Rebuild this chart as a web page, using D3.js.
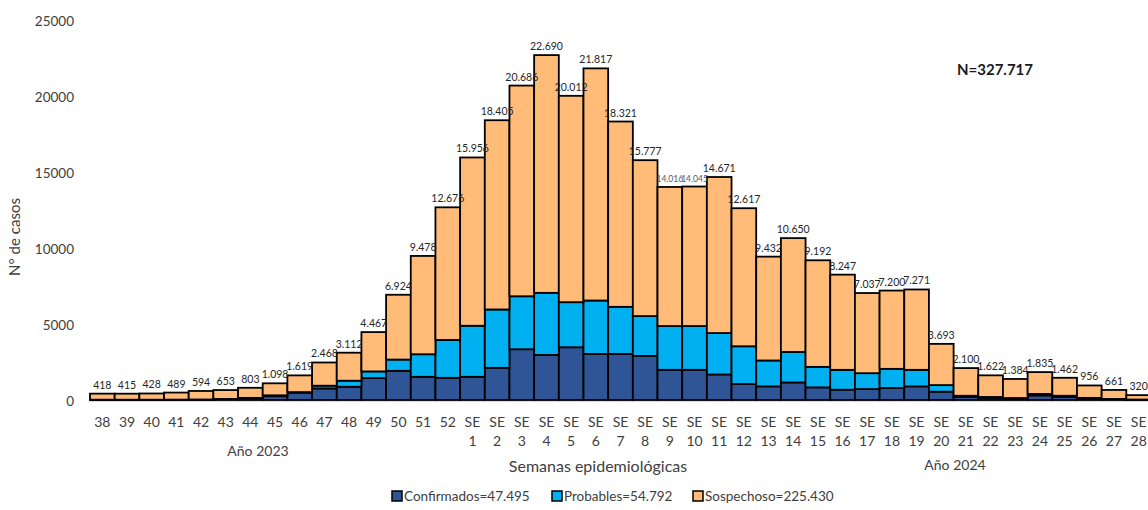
<!DOCTYPE html>
<html>
<head>
<meta charset="utf-8">
<script src="https://cdn.jsdelivr.net/npm/d3@7"></script>
<style>
  body { margin: 0; background: #fff; }
  svg text { font-family: Lato, "Open Sans", sans-serif; }
</style>
</head>
<body>
<div id="chart"></div>
<script>
// Semanas epidemiológicas (38-52 de 2023, SE 1-28 de 2024)
const semanas = ["38","39","40","41","42","43","44","45","46","47","48","49","50","51","52",
  "SE 1","SE 2","SE 3","SE 4","SE 5","SE 6","SE 7","SE 8","SE 9","SE 10","SE 11","SE 12","SE 13","SE 14",
  "SE 15","SE 16","SE 17","SE 18","SE 19","SE 20","SE 21","SE 22","SE 23","SE 24","SE 25","SE 26","SE 27","SE 28"];

const confirmados = [15,15,15,20,30,60,130,250,480,760,870,1440,1920,1525,1460,
  1525,2115,3340,2965,3470,3030,3030,2900,1985,1985,1680,1047,895,1155,
  830,675,720,785,895,545,200,150,100,300,200,100,50,20];

const probables = [5,5,5,5,5,10,10,60,40,180,400,440,740,1485,2490,
  3360,3840,3485,4085,2965,3515,3100,2620,2880,2880,2725,2488,1705,2005,
  1350,1310,1045,1265,1090,435,80,50,30,100,80,40,20,10];

const sospechosos = [398,395,408,464,559,583,663,788,1099,1528,1842,2587,4264,6468,8726,
  11071,12450,13861,15640,13577,15272,12191,10257,9151,9180,10266,9082,6832,7490,
  7012,6262,5272,5150,5286,2713,1820,1422,1254,1435,1182,816,591,290];

const yTicks = [0, 5000, 10000, 15000, 20000, 25000];
const series = ["Confirmados", "Probables", "Sospechoso"];
const legendLabels = ["Confirmados=47.495", "Probables=54.792", "Sospechoso=225.430"];
const colors = ["#2F5597", "#00B0F0", "#FFBB77"];

const width = 1148, height = 510;
const esFmt = d3.formatLocale({decimal: ",", thousands: ".", grouping: [3], currency: ["", ""]}).format(",d");

const rows = semanas.map((s, i) => ({
  semana: s,
  Confirmados: confirmados[i],
  Probables: probables[i],
  Sospechoso: sospechosos[i]
}));

const svg = d3.select("#chart").append("svg")
  .attr("width", width)
  .attr("height", height);

const x = d3.scaleBand()
  .domain(semanas)
  .range([90, 1151])
  .padding(0);

const y = d3.scaleLinear()
  .domain([0, 25000])
  .range([400, 20]);

const color = d3.scaleOrdinal().domain(series).range(colors);

const stacked = d3.stack().keys(series)(rows);

// baseline
svg.append("line")
  .attr("x1", 90).attr("x2", width)
  .attr("y1", y(0) + 1).attr("y2", y(0) + 1)
  .attr("stroke", "#D9D9D9")
  .attr("stroke-width", 2);

// y axis (labels only)
const yAxis = d3.axisLeft(y).tickValues(yTicks).tickFormat(d3.format("d")).tickSize(0).tickPadding(0);
const gy = svg.append("g")
  .attr("transform", "translate(74,1)")
  .call(yAxis);
gy.select(".domain").remove();
gy.selectAll("text")
  .attr("font-size", 13.5)
  .attr("fill", "#404040")
  .style("font-family", "Lato, sans-serif");

svg.append("text")
  .attr("transform", "translate(20,237) rotate(-90)")
  .attr("text-anchor", "middle")
  .attr("font-size", 15)
  .attr("fill", "#404040")
  .text("N° de casos");

// bars
svg.append("g").selectAll("g")
  .data(stacked)
  .join("g")
  .attr("fill", d => color(d.key))
  .selectAll("rect")
  .data(d => d)
  .join("rect")
  .attr("x", d => x(d.data.semana))
  .attr("width", x.bandwidth())
  .attr("y", d => y(d[1]))
  .attr("height", d => y(d[0]) - y(d[1]))
  .attr("stroke", "#000")
  .attr("stroke-width", 1.8);

// total labels
const smallLbl = new Set(["SE 9", "SE 10"]);
svg.append("g").selectAll("text")
  .data(rows)
  .join("text")
  .attr("x", d => x(d.semana) + x.bandwidth() / 2)
  .attr("y", d => y(d.Confirmados + d.Probables + d.Sospechoso) - 5)
  .attr("text-anchor", "middle")
  .attr("font-size", d => smallLbl.has(d.semana) ? 8.5 : 10.5)
  .attr("fill", d => smallLbl.has(d.semana) ? "#595959" : "#262626")
  .text(d => esFmt(d.Confirmados + d.Probables + d.Sospechoso));

// x axis labels
const xl = svg.append("g").selectAll("text")
  .data(semanas)
  .join("text")
  .attr("x", d => x(d) + x.bandwidth() / 2)
  .attr("y", 427)
  .attr("text-anchor", "middle")
  .attr("font-size", 14)
  .attr("fill", "#404040");
xl.each(function(d) {
  const parts = d.split(" ");
  const t = d3.select(this);
  parts.forEach((p, k) => {
    t.append("tspan")
      .attr("x", x(d) + x.bandwidth() / 2)
      .attr("dy", k === 0 ? 0 : 19)
      .text(p);
  });
});

svg.append("text")
  .attr("x", 258).attr("y", 456)
  .attr("text-anchor", "middle")
  .attr("font-size", 14)
  .attr("fill", "#404040")
  .text("Año 2023");

svg.append("text")
  .attr("x", 955).attr("y", 470)
  .attr("text-anchor", "middle")
  .attr("font-size", 14)
  .attr("fill", "#404040")
  .text("Año 2024");

svg.append("text")
  .attr("x", 598).attr("y", 472)
  .attr("text-anchor", "middle")
  .attr("font-size", 16)
  .attr("fill", "#404040")
  .text("Semanas epidemiológicas");

svg.append("text")
  .attr("x", 995).attr("y", 75)
  .attr("text-anchor", "middle")
  .attr("font-size", 15)
  .attr("font-weight", "bold")
  .attr("fill", "#1a1a1a")
  .text("N=327.717");

// legend
const legendX = [392, 552, 693];
const lg = svg.append("g").selectAll("g")
  .data(series)
  .join("g")
  .attr("transform", (d, i) => `translate(${legendX[i]},491)`);
lg.append("rect")
  .attr("width", 10).attr("height", 10)
  .attr("fill", d => color(d))
  .attr("stroke", "#000")
  .attr("stroke-width", 1.5);
lg.append("text")
  .attr("x", 12).attr("y", 10)
  .attr("font-size", 13.5)
  .attr("fill", "#404040")
  .text((d, i) => legendLabels[i]);
</script>
</body>
</html>
